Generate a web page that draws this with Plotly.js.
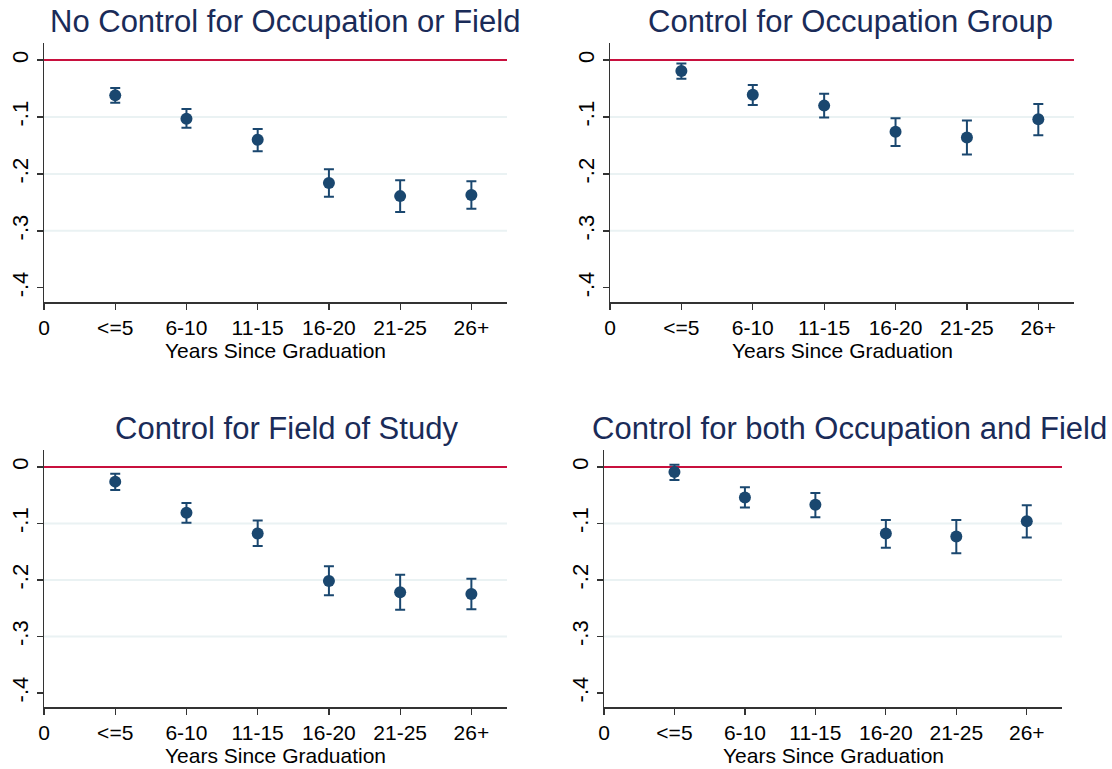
<!DOCTYPE html>
<html>
<head>
<meta charset="utf-8">
<script src="https://cdn.plot.ly/plotly-3.0.1.min.js"></script>
<style>
  html, body { margin: 0; padding: 0; background: #fff; }
  #chart { width: 1112px; height: 769px; }
</style>
</head>
<body>
<div id="chart"></div>
<script>
// x positions and their labels
var xTickVals = [0, 1, 2, 3, 4, 5, 6];
var xTickText = ['0', '<=5', '6-10', '11-15', '16-20', '21-25', '26+'];
var groups = [1, 2, 3, 4, 5, 6];
var xTitle = 'Years Since Graduation';

var yTickVals = [0, -0.1, -0.2, -0.3, -0.4];
var yTickText = ['0', '-.1', '-.2', '-.3', '-.4'];
var gridVals = [-0.1, -0.2, -0.3];

var titles = [
    'No Control for Occupation or Field',
    'Control for Occupation Group',
    'Control for Field of Study',
    'Control for both Occupation and Field'
];

// point estimates with upper / lower bounds of the intervals
var noCtrlEst = [-0.062, -0.103, -0.140, -0.216, -0.239, -0.237];
var noCtrlHi  = [-0.049, -0.086, -0.121, -0.192, -0.211, -0.213];
var noCtrlLo  = [-0.075, -0.119, -0.160, -0.240, -0.267, -0.261];

var occEst = [-0.019, -0.061, -0.080, -0.126, -0.136, -0.104];
var occHi  = [-0.006, -0.044, -0.059, -0.102, -0.106, -0.077];
var occLo  = [-0.033, -0.079, -0.101, -0.151, -0.166, -0.132];

var fieldEst = [-0.026, -0.081, -0.118, -0.202, -0.222, -0.225];
var fieldHi  = [-0.012, -0.064, -0.095, -0.176, -0.191, -0.198];
var fieldLo  = [-0.041, -0.099, -0.140, -0.227, -0.253, -0.252];

var bothEst = [-0.009, -0.054, -0.067, -0.118, -0.123, -0.096];
var bothHi  = [0.004, -0.036, -0.046, -0.094, -0.094, -0.068];
var bothLo  = [-0.023, -0.072, -0.089, -0.143, -0.153, -0.125];

var navy = '#1a476f';
var W = 1112, H = 769;

// panel boxes in pixels: [left, right, top, bottom], plus title centre x
var boxes = [
    [44, 507, 43, 302],
    [610, 1074, 43, 302],
    [44, 507, 450, 707],
    [604, 1062, 450, 707]
];
var titleCx = [285, 850, 286, 849];

var sets = [
    [noCtrlEst, noCtrlLo, noCtrlHi],
    [occEst, occLo, occHi],
    [fieldEst, fieldLo, fieldHi],
    [bothEst, bothLo, bothHi]
];

var data = [];
var layout = {
    width: W,
    height: H,
    margin: { l: 0, r: 0, t: 0, b: 0 },
    paper_bgcolor: '#fff',
    plot_bgcolor: '#fff',
    showlegend: false,
    font: { family: 'Liberation Sans, Arial, sans-serif', color: '#000' },
    shapes: [],
    annotations: []
};

sets.forEach(function (s, i) {
    var n = i + 1;
    var xa = n === 1 ? 'x' : 'x' + n;
    var ya = n === 1 ? 'y' : 'y' + n;
    var est = s[0], lo = s[1], hi = s[2];
    var plus = est.map(function (v, k) { return hi[k] - v; });
    var minus = est.map(function (v, k) { return v - lo[k]; });

    data.push({
        x: groups,
        y: est,
        xaxis: xa,
        yaxis: ya,
        type: 'scatter',
        mode: 'markers',
        marker: { color: navy, size: 12 },
        error_y: {
            type: 'data', symmetric: false,
            array: plus, arrayminus: minus,
            color: navy, thickness: 2, width: 5
        },
        cliponaxis: false
    });

    var b = boxes[i];
    layout['xaxis' + (n === 1 ? '' : n)] = {
        domain: [b[0] / W, b[1] / W],
        anchor: ya,
        range: [0, 6.5],
        tickvals: xTickVals,
        ticktext: xTickText,
        ticks: 'outside', ticklen: 6, tickwidth: 1.3, tickcolor: '#333',
        showline: true, linecolor: '#333', linewidth: 1.5,
        showgrid: false, zeroline: false,
        tickfont: { size: 21, color: '#000' }
    };
    layout['yaxis' + (n === 1 ? '' : n)] = {
        domain: [1 - b[3] / H, 1 - b[2] / H],
        anchor: xa,
        range: [-0.425, 0.03],
        tickvals: yTickVals,
        ticktext: yTickText,
        tickangle: -90,
        ticks: 'outside', ticklen: 6, tickwidth: 1.3, tickcolor: '#333',
        showline: true, linecolor: '#333', linewidth: 1.5,
        showgrid: false, zeroline: false,
        tickfont: { size: 22, color: '#000' }
    };

    gridVals.forEach(function (g) {
        layout.shapes.push({
            type: 'line', xref: xa, yref: ya,
            x0: 0, x1: 6.5, y0: g, y1: g,
            line: { color: '#eaf2f3', width: 2 }, layer: 'below'
        });
    });
    layout.shapes.push({
        type: 'line', xref: xa, yref: ya,
        x0: 0, x1: 6.5, y0: 0, y1: 0,
        line: { color: '#c8103e', width: 2 }, layer: 'below'
    });

    layout.annotations.push({
        text: titles[i],
        xref: 'paper', yref: 'paper',
        x: titleCx[i] / W,
        y: 1 - (b[2] - 21) / H,
        xanchor: 'center', yanchor: 'middle',
        showarrow: false,
        font: { size: 31, color: '#1a2b58' }
    });
    // x axis title, placed just under the tick labels
    layout.annotations.push({
        text: xTitle,
        xref: xa + ' domain', yref: 'paper',
        x: 0.5,
        y: 1 - (b[3] + 48) / H,
        xanchor: 'center', yanchor: 'middle',
        showarrow: false,
        font: { size: 21, color: '#000' }
    });
});

Plotly.newPlot('chart', data, layout, { staticPlot: true });
</script>
</body>
</html>
